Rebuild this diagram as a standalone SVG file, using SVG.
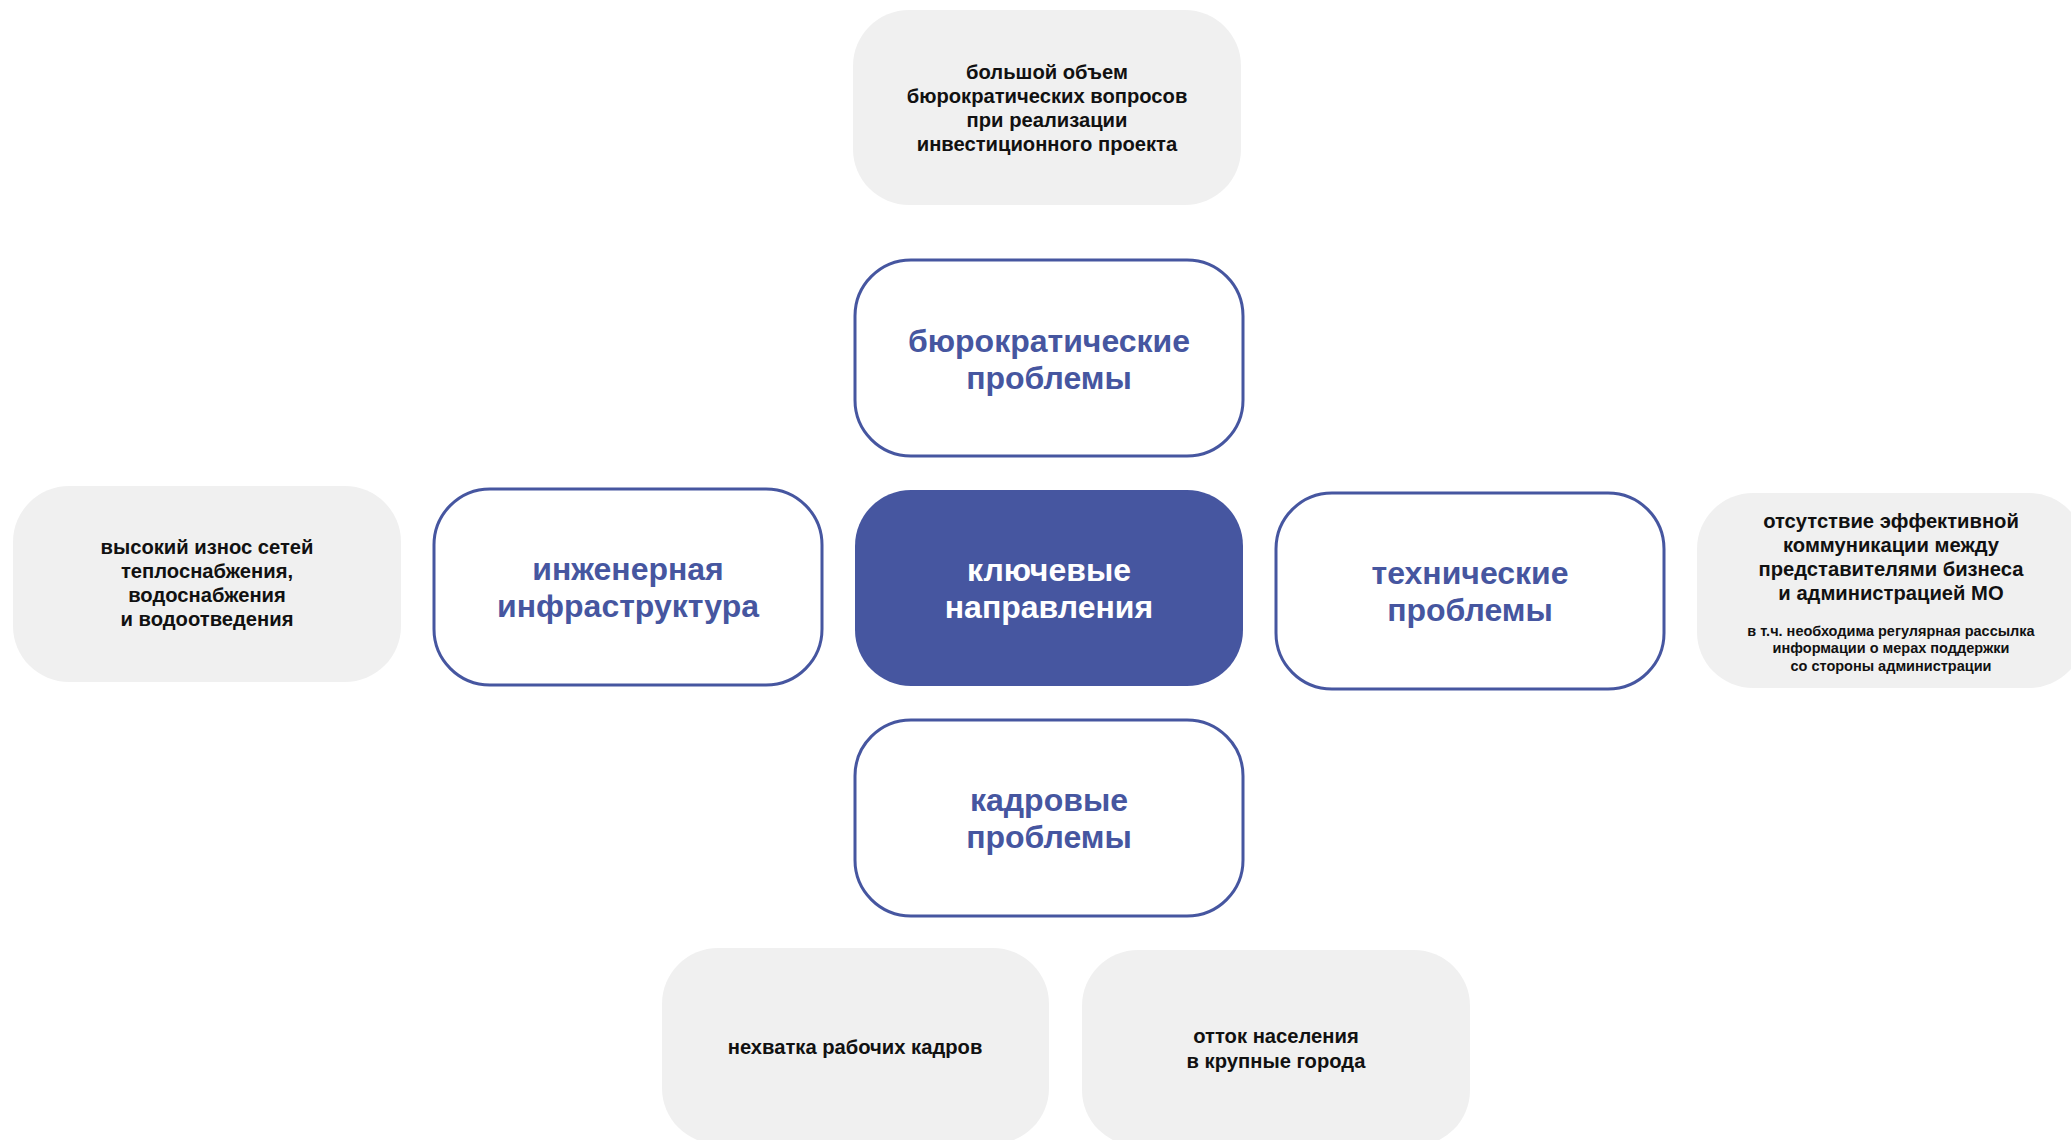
<svg xmlns="http://www.w3.org/2000/svg" width="2071" height="1140" viewBox="0 0 2071 1140">
<style>
.gray{fill:#f0f0f0}
.out{fill:#ffffff;stroke:#4656a0;stroke-width:3}
.core{fill:#4656a0}
.t{font-family:"Liberation Sans",Arial,sans-serif;font-weight:bold;text-anchor:middle}
.b{fill:#111111;font-size:20.2px}
.s{fill:#111111;font-size:14.5px}
.h{fill:#4656a0;font-size:32px}
.w{fill:#ffffff;font-size:32px}
</style>
<rect width="2071" height="1140" fill="#ffffff"/>
<g id="connectors"/>
<g id="node-top-gray">
<rect class="gray" x="853" y="10" width="388" height="195" rx="56"/>
<text class="t b"><tspan x="1047" y="79">большой объем</tspan><tspan x="1047" y="103">бюрократических вопросов</tspan><tspan x="1047" y="127">при реализации</tspan><tspan x="1047" y="151">инвестиционного проекта</tspan></text>
</g>
<g id="node-bureau">
<rect class="out" x="855" y="260" width="388" height="196" rx="56"/>
<text class="t h"><tspan x="1049" y="352">бюрократические</tspan><tspan x="1049" y="389">проблемы</tspan></text>
</g>
<g id="node-left-gray">
<rect class="gray" x="13" y="486" width="388" height="196" rx="56"/>
<text class="t b"><tspan x="207" y="554">высокий износ сетей</tspan><tspan x="207" y="578">теплоснабжения,</tspan><tspan x="207" y="602">водоснабжения</tspan><tspan x="207" y="626">и водоотведения</tspan></text>
</g>
<g id="node-infra">
<rect class="out" x="434" y="489" width="388" height="196" rx="56"/>
<text class="t h"><tspan x="628" y="580">инженерная</tspan><tspan x="628" y="617">инфраструктура</tspan></text>
</g>
<g id="node-center">
<rect class="core" x="855" y="490" width="388" height="196" rx="56"/>
<text class="t w"><tspan x="1049" y="581">ключевые</tspan><tspan x="1049" y="618">направления</tspan></text>
</g>
<g id="node-tech">
<rect class="out" x="1276" y="493" width="388" height="196" rx="56"/>
<text class="t h"><tspan x="1470" y="584">технические</tspan><tspan x="1470" y="621">проблемы</tspan></text>
</g>
<g id="node-right-gray">
<rect class="gray" x="1697" y="493" width="388" height="195" rx="56"/>
<text class="t b"><tspan x="1891" y="528">отсутствие эффективной</tspan><tspan x="1891" y="552">коммуникации между</tspan><tspan x="1891" y="576">представителями бизнеса</tspan><tspan x="1891" y="600">и администрацией МО</tspan></text>
<text class="t s"><tspan x="1891" y="636">в т.ч. необходима регулярная рассылка</tspan><tspan x="1891" y="653">информации о мерах поддержки</tspan><tspan x="1891" y="671">со стороны администрации</tspan></text>
</g>
<g id="node-kadry">
<rect class="out" x="855" y="720" width="388" height="196" rx="56"/>
<text class="t h"><tspan x="1049" y="811">кадровые</tspan><tspan x="1049" y="848">проблемы</tspan></text>
</g>
<g id="node-bottom-left">
<rect class="gray" x="662" y="948" width="387" height="196" rx="56"/>
<text class="t b" x="855" y="1054">нехватка рабочих кадров</text>
</g>
<g id="node-bottom-right">
<rect class="gray" x="1082" y="950" width="388" height="196" rx="56"/>
<text class="t b"><tspan x="1276" y="1043">отток населения</tspan><tspan x="1276" y="1068">в крупные города</tspan></text>
</g>
</svg>
